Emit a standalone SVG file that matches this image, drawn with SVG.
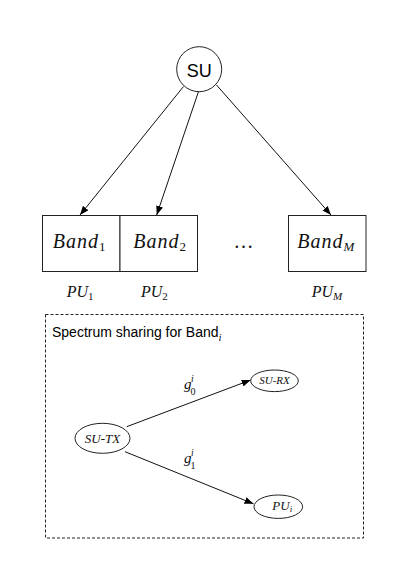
<svg xmlns="http://www.w3.org/2000/svg" width="413" height="585" viewBox="0 0 413 585">
<style>
.shape{fill:#fff;stroke:#222;stroke-width:1}
.edge{fill:none;stroke:#111;stroke-width:1}
.math{font-family:"Liberation Serif","Times New Roman",serif;font-style:italic;fill:#111}
.sans{font-family:"Liberation Sans",Arial,sans-serif;fill:#000}
.num{font-family:"Liberation Serif","Times New Roman",serif;font-style:normal;fill:#111}
</style>
<defs>
<marker id="arr" markerWidth="9" markerHeight="7" refX="9" refY="3.5" orient="auto" markerUnits="userSpaceOnUse">
<path d="M0,0 L9,3.5 L0,7 Z" fill="#000"/>
</marker>
</defs>
<rect width="413" height="585" fill="#fff"/>

<g id="connectors">
<line class="edge" x1="183.5" y1="86.5" x2="80" y2="215" marker-end="url(#arr)"/>
<line class="edge" x1="198.5" y1="91.5" x2="156.7" y2="215" marker-end="url(#arr)"/>
<line class="edge" x1="216.5" y1="85" x2="331" y2="215" marker-end="url(#arr)"/>
<line class="edge" x1="126.7" y1="426.7" x2="250.7" y2="380" marker-end="url(#arr)"/>
<line class="edge" x1="125" y1="451.7" x2="253.5" y2="503.8" marker-end="url(#arr)"/>
</g>

<g id="su">
<circle class="shape" cx="199.2" cy="69.2" r="22.5"/>
<text class="sans" x="199.2" y="76.5" font-size="18" text-anchor="middle">SU</text>
</g>

<g id="band1">
<rect class="shape" x="42.5" y="215.5" width="77.5" height="56"/>
<text class="math" x="52.7" y="248" font-size="20" letter-spacing="1">Band<tspan class="num" font-size="13" dy="3" letter-spacing="0">1</tspan></text>
</g>
<g id="band2">
<rect class="shape" x="120" y="215.5" width="77.5" height="56"/>
<text class="math" x="133.3" y="248" font-size="20" letter-spacing="1">Band<tspan class="num" font-size="13" dy="3" letter-spacing="0">2</tspan></text>
</g>
<g id="dots">
<text class="num" x="243.5" y="248" font-size="20" text-anchor="middle">…</text>
</g>
<g id="bandM">
<rect class="shape" x="288.5" y="215.5" width="77.5" height="56"/>
<text class="math" x="297.3" y="248" font-size="20" letter-spacing="1">Band<tspan font-size="13" dy="3" letter-spacing="0">M</tspan></text>
</g>

<g id="pu-labels">
<text class="math" x="66.7" y="297" font-size="16">PU<tspan class="num" font-size="11" dy="2.5">1</tspan></text>
<text class="math" x="141" y="297" font-size="16">PU<tspan class="num" font-size="11" dy="2.5">2</tspan></text>
<text class="math" x="311.7" y="297" font-size="16">PU<tspan font-size="11" dy="2.5">M</tspan></text>
</g>

<g id="spectrum-box">
<rect x="45.5" y="314.5" width="318" height="223.5" fill="none" stroke="#222" stroke-width="1" stroke-dasharray="3,2"/>
<text class="sans" x="52" y="336.5" font-size="14">Spectrum sharing for Band<tspan class="math" font-size="11" dy="4.5">i</tspan></text>
</g>

<g id="su-tx">
<ellipse class="shape" cx="102.5" cy="438.3" rx="27.5" ry="15"/>
<text class="math" x="102.5" y="442.7" font-size="13" text-anchor="middle">SU-TX</text>
</g>
<g id="su-rx">
<ellipse class="shape" cx="274.5" cy="380.8" rx="23.8" ry="10.8"/>
<text class="math" x="274.5" y="384.3" font-size="11" text-anchor="middle">SU-RX</text>
</g>
<g id="pu-i">
<ellipse class="shape" cx="278.3" cy="506.7" rx="24.3" ry="11.7"/>
<text class="math" x="272.3" y="509.5" font-size="13">PU<tspan font-size="9" dy="2">i</tspan></text>
</g>

<g id="edge-labels">
<text class="math" x="184" y="389" font-size="15">g</text>
<text class="math" x="191" y="382" font-size="9.5">i</text>
<text class="num" x="190.5" y="394.5" font-size="10">0</text>
<text class="math" x="184" y="463" font-size="15">g</text>
<text class="math" x="191" y="456" font-size="9.5">i</text>
<text class="num" x="190.5" y="468.5" font-size="10">1</text>
</g>
</svg>
